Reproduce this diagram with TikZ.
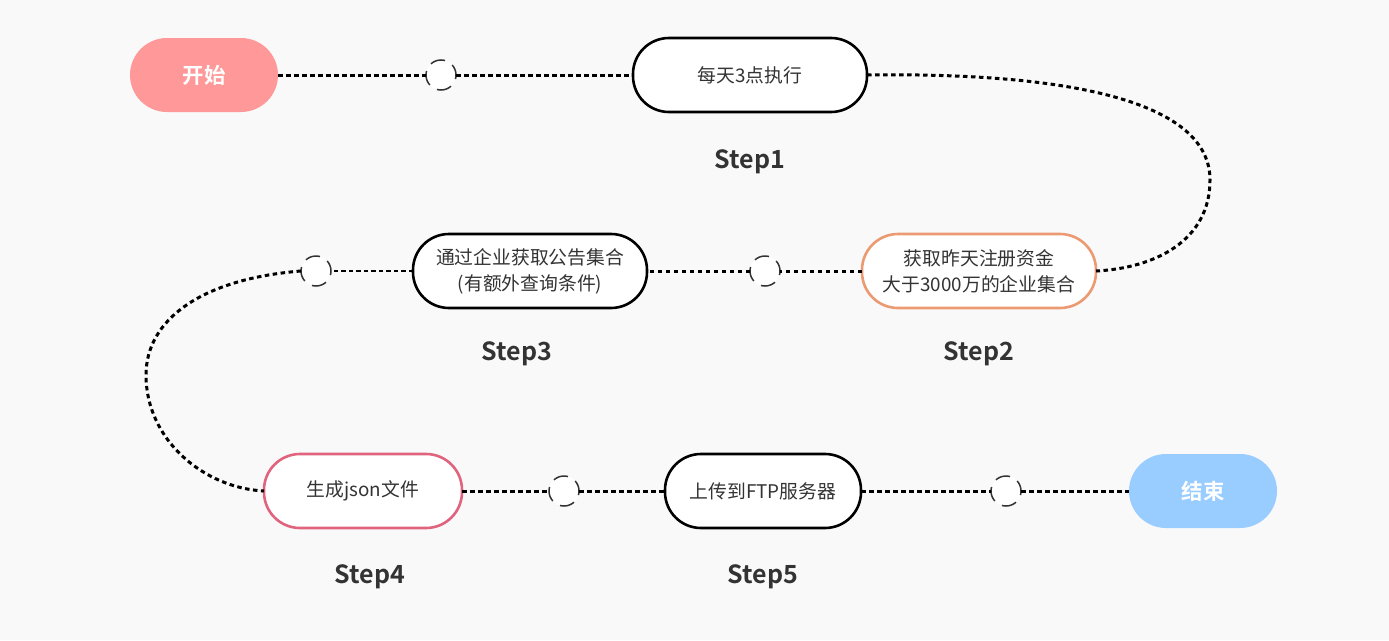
\documentclass[tikz,border=0pt]{standalone}
\usepackage{fontspec}
\setmainfont{Noto Sans CJK SC}[BoldFont={Noto Sans CJK SC Bold}]
\begin{document}
\begin{tikzpicture}[x=1pt,y=-1pt,
  every node/.style={inner sep=0pt, outer sep=0pt},
  pill/.style={draw=black, line width=2.6pt, fill=white, rounded corners=36pt,
    minimum height=74pt, text=txt, align=center,
    font=\fontsize{18.8}{26}\selectfont},
  endpoint/.style={rounded corners=37pt, minimum height=74pt, minimum width=148pt,
    text=white, font=\fontsize{21.5}{24}\selectfont\bfseries},
  gap/.style={circle, draw=txt, line width=1.5pt, dash pattern=on 15pt off 8.5pt,
    dash phase=4pt, fill=white, minimum size=30pt},
  steplabel/.style={text=txt, font=\fontsize{25}{28}\selectfont\bfseries},
  link/.style={line width=3pt, dash pattern=on 4.5pt off 3.5pt},
  thinlink/.style={line width=1.3pt, dash pattern=on 4.5pt off 3pt}]
\definecolor{txt}{HTML}{333333}
\definecolor{bg}{HTML}{F9F9F9}
\definecolor{startc}{HTML}{FF9999}
\definecolor{endc}{HTML}{99CCFF}
\definecolor{orangeb}{HTML}{EB9A72}
\definecolor{pinkb}{HTML}{E0647E}

\fill[bg] (0,0) rectangle (1389,640);
\useasboundingbox (0,0) rectangle (1389,640);

% start and end
\node[endpoint, fill=startc] (start) at (204,75) {开始};
\node[endpoint, fill=endc] (finish) at (1203,491) {结束};

% steps
\node[pill, minimum width=234pt] (s1) at (750,75) {每天3点执行};
\node[pill, minimum width=234pt, draw=orangeb] (s2) at (979,271) {获取昨天注册资金\\大于3000万的企业集合};
\node[pill, minimum width=234pt] (s3) at (530,271) {通过企业获取公告集合\\(有额外查询条件)};
\node[pill, minimum width=198pt, draw=pinkb] (s4) at (363,491) {生成json文件};
\node[pill, minimum width=196pt] (s5) at (763,491) {上传到FTP服务器};

% step labels
\node[steplabel] (l1) at (750,162) {Step1};
\node[steplabel] (l2) at (979,354) {Step2};
\node[steplabel] (l3) at (517,354) {Step3};
\node[steplabel] (l4) at (370,577) {Step4};
\node[steplabel] (l5) at (763,577) {Step5};

% joints
\node[gap] (c1) at (441,75) {};
\node[gap] (c2) at (765,271) {};
\node[gap] (c3) at (316,271) {};
\node[gap] (c4) at (564,491) {};
\node[gap] (c5) at (1006,491) {};

% connectors
\draw[link] (start.east) -- (c1);
\draw[link] (c1) -- (s1.west);
\draw[link] (s1.east) .. controls +(215,-3) and +(0,-75) .. (1210,180)
                      .. controls +(0,60) and +(60,-3) .. (s2.east);
\draw[link] (s2.west) -- (c2);
\draw[link] (c2) -- (s3.east);
\draw[thinlink] (s3.west) -- (c3);
\draw[link] (c3.west) .. controls +(-100,8) and +(0,-55) .. (146,375)
                      .. controls +(0,65) and +(-60,-3) .. (s4.west);
\draw[link] (s4.east) -- (c4);
\draw[link] (c4) -- (s5.west);
\draw[link] (s5.east) -- (c5);
\draw[link] (c5) -- (finish.west);
\end{tikzpicture}
\end{document}
